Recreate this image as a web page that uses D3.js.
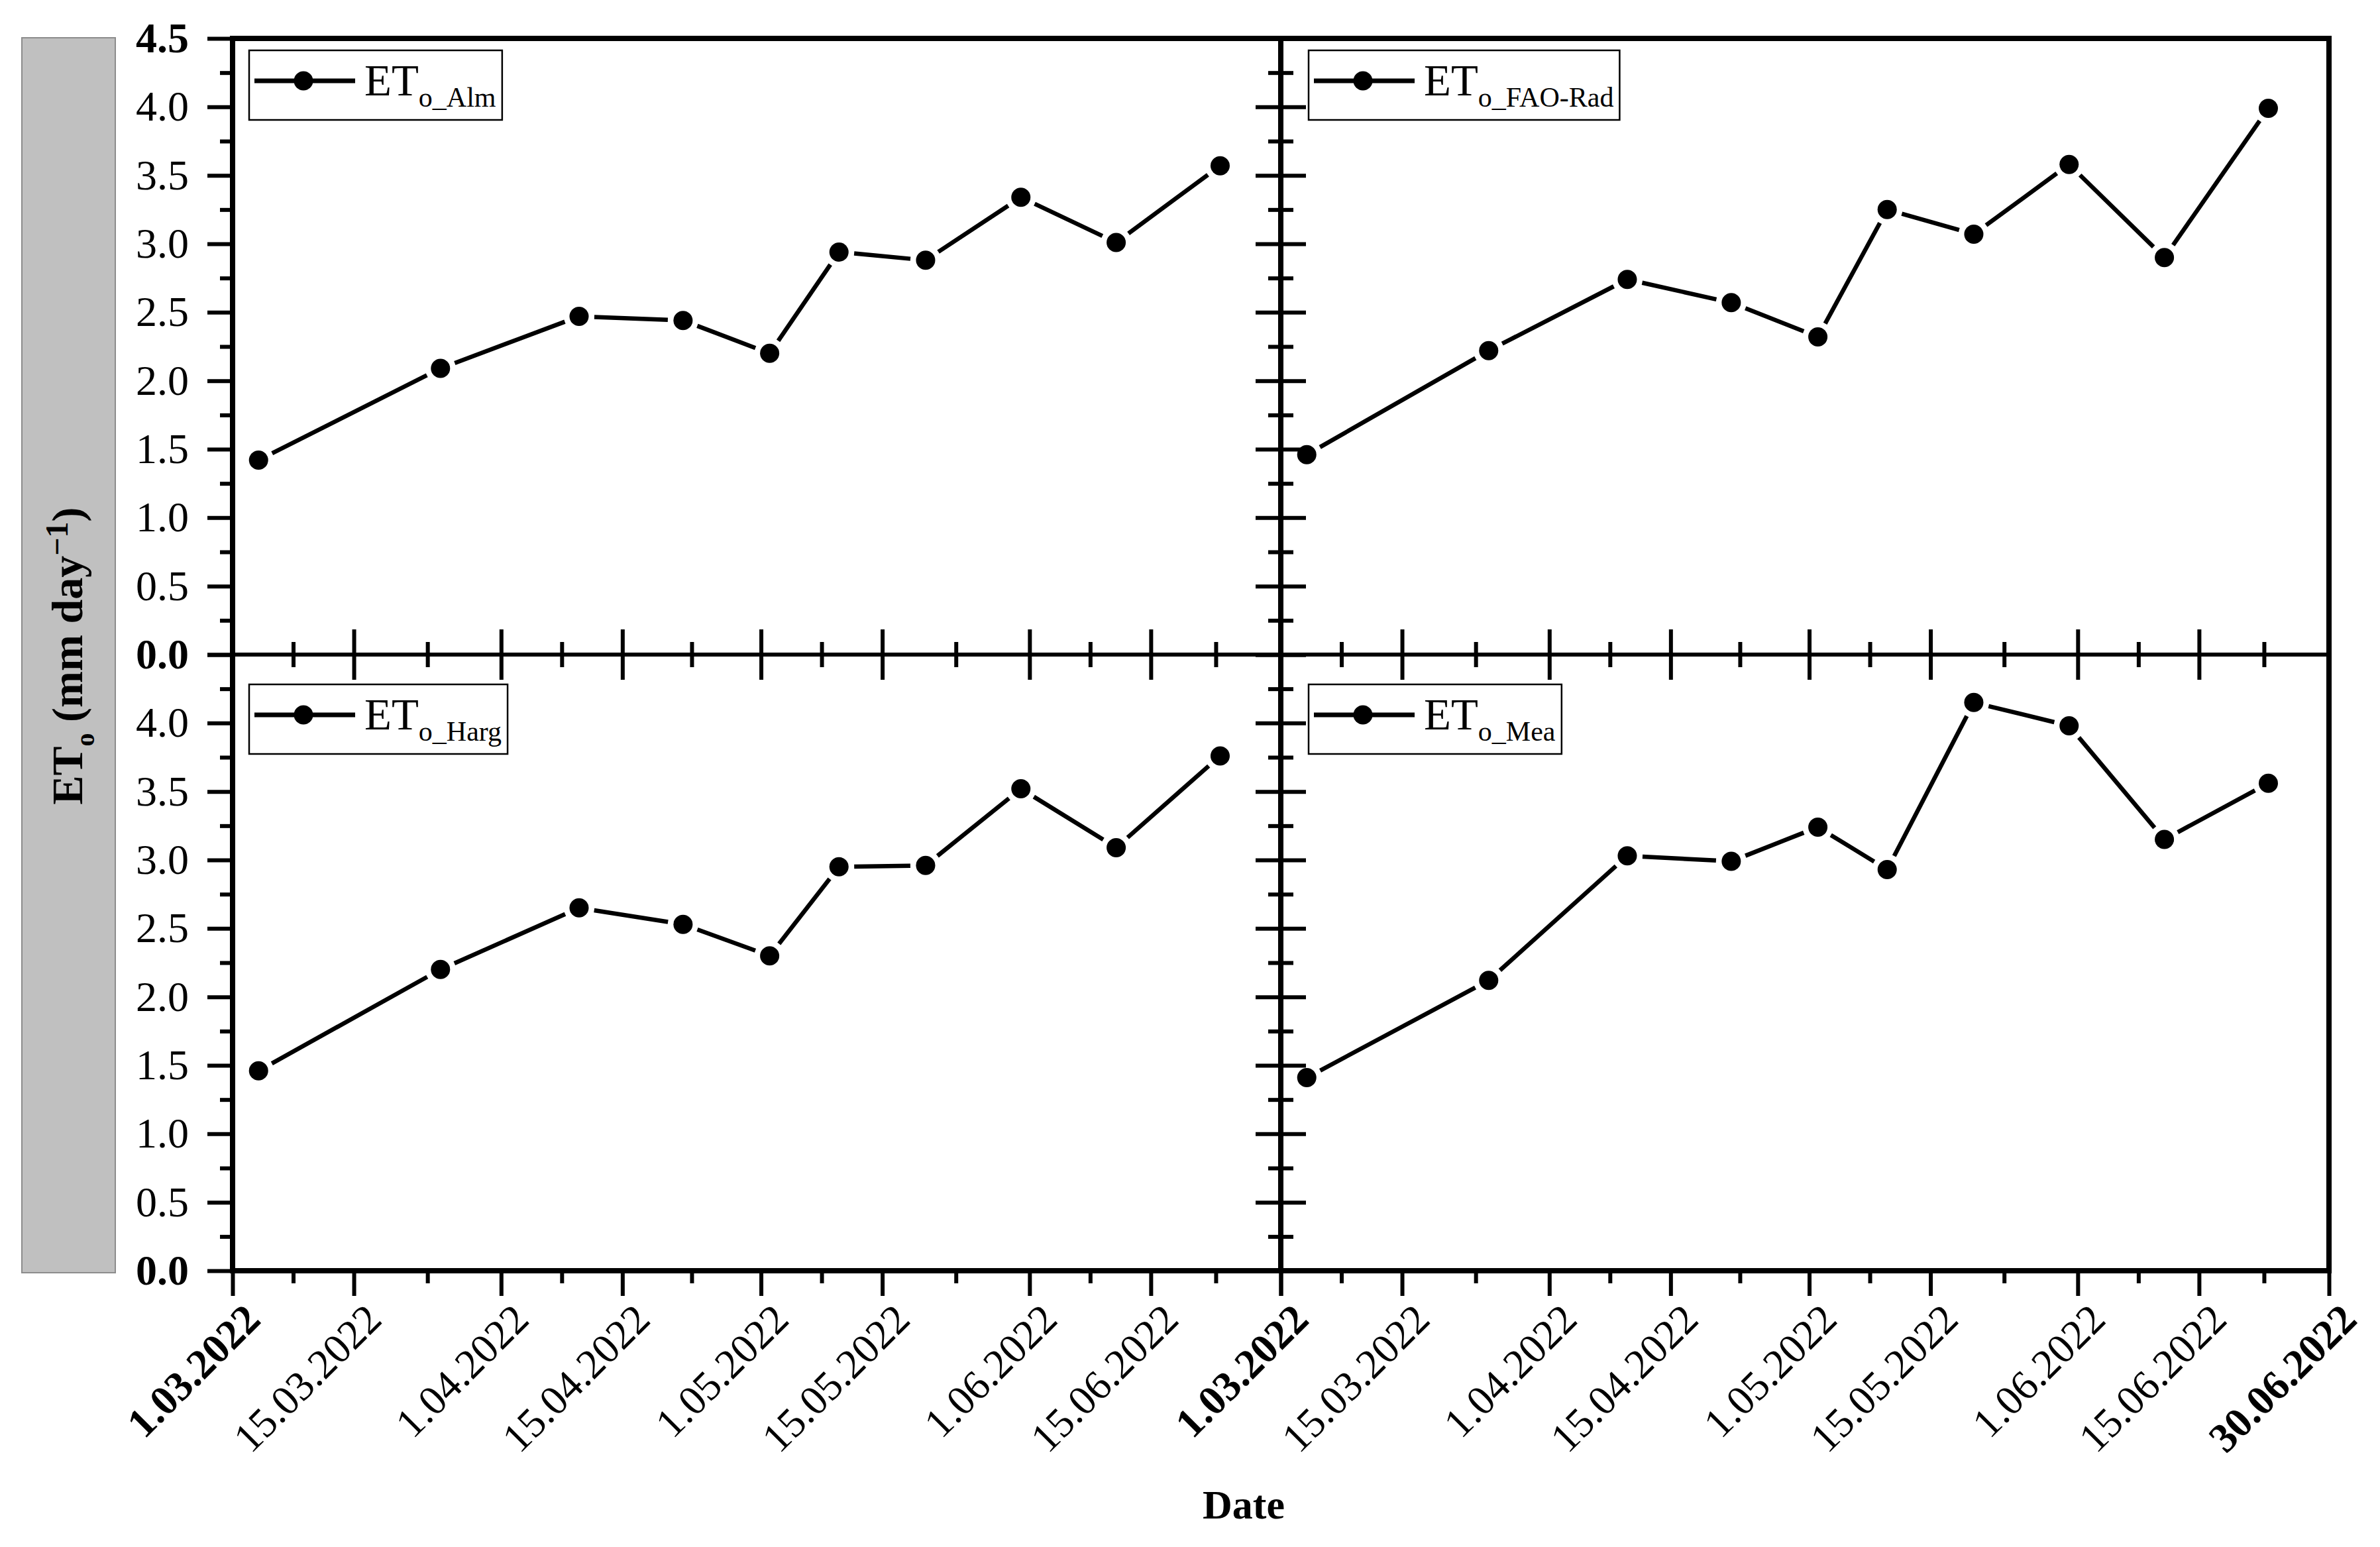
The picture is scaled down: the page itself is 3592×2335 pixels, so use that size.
<!DOCTYPE html>
<html><head><meta charset="utf-8">
<script src="https://cdn.jsdelivr.net/npm/d3@7"></script>
<style>html,body{margin:0;padding:0;background:#fff}svg{display:block}</style>
</head><body>
<svg id="chart" width="3592" height="2335" xmlns="http://www.w3.org/2000/svg"></svg>
<script>
// ---------------- data ----------------
const sampleDates = ["2022-03-04","2022-03-25","2022-04-10","2022-04-22","2022-05-02","2022-05-10","2022-05-20","2022-05-31","2022-06-11","2022-06-23"];
const etoAlm    = [1.42, 2.09, 2.47, 2.44, 2.20, 2.94, 2.88, 3.34, 3.01, 3.57];
const etoFaoRad = [1.46, 2.22, 2.74, 2.57, 2.32, 3.25, 3.07, 3.58, 2.90, 3.99];
const etoHarg   = [1.46, 2.20, 2.65, 2.53, 2.30, 2.95, 2.96, 3.52, 3.09, 3.76];
const etoMea    = [1.41, 2.12, 3.03, 2.99, 3.24, 2.93, 4.15, 3.98, 3.15, 3.56];
const seriesNames = ["Alm", "FAO-Rad", "Harg", "Mea"];
const xTickLabels = ["1.03.2022","15.03.2022","1.04.2022","15.04.2022","1.05.2022","15.05.2022","1.06.2022","15.06.2022","30.06.2022"];
const yTickLabels = ["0.0","0.5","1.0","1.5","2.0","2.5","3.0","3.5","4.0","4.5"];
const xDomainLabels = ["1.03.2022","30.06.2022"];
const yAxisTitle = "ET";
const xAxisTitle = "Date";

// ---------------- layout ----------------
const L = 351, M = 1933, R = 3515, T = 58, MID = 988, B = 1918;
const FONT = "'Liberation Serif','Times New Roman',serif";
const svg = d3.select("#chart");

const parseLbl = s => { const [d, m, y] = s.split(".").map(Number); return new Date(Date.UTC(y, m - 1, d)); };
const parseIso = d3.utcParse("%Y-%m-%d");
const xDomain = xDomainLabels.map(parseLbl);
const xMajor = xTickLabels.map(parseLbl);
const xMinor = d3.pairs(xMajor).map(([a, b]) => new Date((+a + +b) / 2));
const yMajor = yTickLabels.map(Number);
const yMinor = d3.pairs(yMajor).map(([a, b]) => (a + b) / 2);

const panels = [
  {x0: L, x1: M, y0: T,   y1: MID, values: etoAlm,    name: seriesNames[0], leftEdge: true,  top: true},
  {x0: M, x1: R, y0: T,   y1: MID, values: etoFaoRad, name: seriesNames[1], leftEdge: false, top: true},
  {x0: L, x1: M, y0: MID, y1: B,   values: etoHarg,   name: seriesNames[2], leftEdge: true,  top: false},
  {x0: M, x1: R, y0: MID, y1: B,   values: etoMea,    name: seriesNames[3], leftEdge: false, top: false}
];

// y-title grey box
svg.append("rect").attr("x", 33).attr("y", 57).attr("width", 141).attr("height", 1864)
  .attr("fill", "#c0c0c0").attr("stroke", "#8c8c8c").attr("stroke-width", 2);

const yt = svg.append("text").attr("transform", "translate(124,990) rotate(-90)")
  .attr("text-anchor", "middle").attr("font-family", FONT).attr("font-weight", "bold")
  .attr("font-size", 66).attr("fill", "#000");
yt.append("tspan").text(yAxisTitle);
yt.append("tspan").attr("font-size", 40).attr("dy", 18).text("o");
yt.append("tspan").attr("dy", -18).text(" (mm day");
yt.append("tspan").attr("font-size", 48).attr("dy", -22).text("\u22121");
yt.append("tspan").attr("dy", 22).text(")");

function styleAxis(g, w) {
  g.select(".domain").remove();
  g.selectAll(".tick line").attr("stroke", "#000").attr("stroke-width", w);
  g.selectAll(".tick text").remove();
}

panels.forEach((p, i) => {
  const x = d3.scaleUtc().domain(xDomain).range([p.x0, p.x1]);
  const y = d3.scaleLinear().domain([0, 4.5]).range([p.y1, p.y0]);
  p.x = x; p.y = y;

  // ---- y ticks ----
  const yLeftMaj = d3.axisLeft(y).tickValues(yMajor).tickSize(38).tickFormat("");
  const yLeftMin = d3.axisLeft(y).tickValues(yMinor).tickSize(19).tickFormat("");
  svg.append("g").attr("transform", `translate(${p.x0},0)`).call(yLeftMaj).call(g => styleAxis(g, 6));
  svg.append("g").attr("transform", `translate(${p.x0},0)`).call(yLeftMin).call(g => styleAxis(g, 6));
  if (!p.leftEdge) {
    svg.append("g").attr("transform", `translate(${p.x0},0)`).call(d3.axisRight(y).tickValues(yMajor).tickSize(38).tickFormat("")).call(g => styleAxis(g, 6));
    svg.append("g").attr("transform", `translate(${p.x0},0)`).call(d3.axisRight(y).tickValues(yMinor).tickSize(19).tickFormat("")).call(g => styleAxis(g, 6));
  }
  // ---- x ticks ----
  svg.append("g").attr("transform", `translate(0,${p.y1})`).call(d3.axisBottom(x).tickValues(xMajor).tickSize(38).tickFormat("")).call(g => styleAxis(g, 6));
  svg.append("g").attr("transform", `translate(0,${p.y1})`).call(d3.axisBottom(x).tickValues(xMinor).tickSize(19).tickFormat("")).call(g => styleAxis(g, 6));
  if (p.top) {
    svg.append("g").attr("transform", `translate(0,${p.y1})`).call(d3.axisTop(x).tickValues(xMajor).tickSize(38).tickFormat("")).call(g => styleAxis(g, 6));
    svg.append("g").attr("transform", `translate(0,${p.y1})`).call(d3.axisTop(x).tickValues(xMinor).tickSize(19).tickFormat("")).call(g => styleAxis(g, 6));
  }

  // ---- y labels ----
  if (p.leftEdge) {
    yTickLabels.forEach((lbl, k) => {
      const v = yMajor[k];
      if (!p.top && v === 4.5) return;
      const bold = v === 0 || v === 4.5;
      svg.append("text").attr("x", 285).attr("y", y(v) + 21)
        .attr("text-anchor", "end").attr("font-family", FONT).attr("font-size", 64)
        .attr("font-weight", bold ? "bold" : "normal").attr("fill", "#000").text(lbl);
    });
  }
  // ---- x labels ----
  if (!p.top) {
    xTickLabels.forEach((lbl, k) => {
      const last = k === xTickLabels.length - 1;
      if (last && p.leftEdge) return;
      const bold = k === 0 || last;
      svg.append("text")
        .attr("transform", `translate(${x(xMajor[k]) + 45},1995) rotate(-45)`)
        .attr("text-anchor", "end").attr("font-family", FONT).attr("font-size", 63)
        .attr("font-weight", bold ? "bold" : "normal").attr("fill", "#000").text(lbl);
    });
  }

  // ---- data ----
  const pts = sampleDates.map((d, k) => [x(parseIso(d)), y(p.values[k])]);
  const gap = 23;
  const segs = d3.pairs(pts).map(([a, b]) => {
    const dx = b[0] - a[0], dy = b[1] - a[1], len = Math.hypot(dx, dy);
    const ux = dx / len, uy = dy / len;
    return [[a[0] + ux * gap, a[1] + uy * gap], [b[0] - ux * gap, b[1] - uy * gap]];
  });
  svg.append("g").selectAll("path").data(segs).join("path")
    .attr("d", d => d3.line()(d)).attr("stroke", "#000").attr("stroke-width", 6.5).attr("fill", "none");
  svg.append("g").selectAll("circle").data(pts).join("circle")
    .attr("cx", d => d[0]).attr("cy", d => d[1]).attr("r", 14.5).attr("fill", "#000");

  // ---- legend ----
  const lx = p.x0 + 25 + (p.leftEdge ? 0 : 17);
  const ly = p.y0 + (p.top ? 18 : 45);
  const lg = svg.append("g");
  const box = lg.append("rect").attr("x", lx).attr("y", ly).attr("height", 105)
    .attr("fill", "#fff").attr("stroke", "#000").attr("stroke-width", 2.5);
  lg.append("line").attr("x1", lx + 8).attr("x2", lx + 160).attr("y1", ly + 46).attr("y2", ly + 46)
    .attr("stroke", "#000").attr("stroke-width", 7);
  lg.append("circle").attr("cx", lx + 82).attr("cy", ly + 46).attr("r", 14.5).attr("fill", "#000");
  const lt = lg.append("text").attr("x", lx + 174).attr("y", ly + 68)
    .attr("font-family", FONT).attr("font-size", 67).attr("fill", "#000");
  lt.append("tspan").text("ET");
  lt.append("tspan").attr("font-size", 42).attr("dy", 17).text("o_" + p.name);
  const bb = lt.node().getBBox();
  box.attr("width", bb.x + bb.width - lx + 9);
});

// ---- frame lines ----
svg.append("rect").attr("x", L).attr("y", T).attr("width", R - L).attr("height", B - T)
  .attr("fill", "none").attr("stroke", "#000").attr("stroke-width", 8);
svg.append("line").attr("x1", M).attr("x2", M).attr("y1", T).attr("y2", B).attr("stroke", "#000").attr("stroke-width", 8);
svg.append("line").attr("x1", L).attr("x2", R).attr("y1", MID).attr("y2", MID).attr("stroke", "#000").attr("stroke-width", 6);

// ---- x title ----
svg.append("text").attr("x", 1877).attr("y", 2292).attr("text-anchor", "middle")
  .attr("font-family", FONT).attr("font-size", 62).attr("font-weight", "bold").attr("fill", "#000").text(xAxisTitle);
</script>
</body></html>
